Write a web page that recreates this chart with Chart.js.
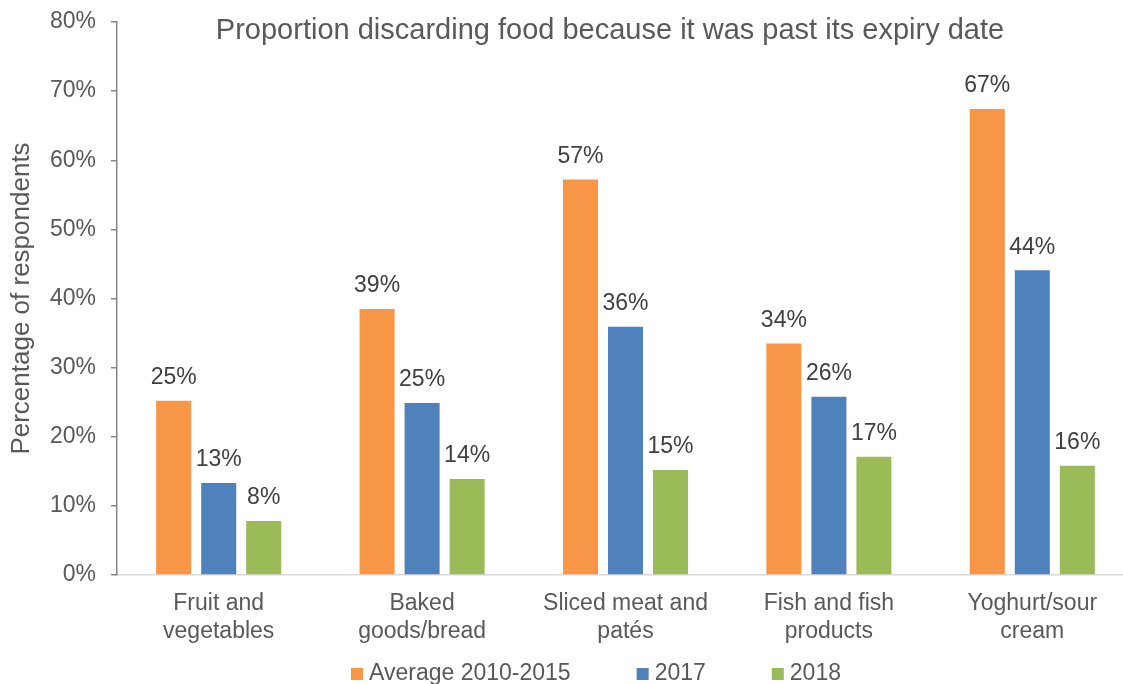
<!DOCTYPE html>
<html>
<head>
<meta charset="utf-8">
<title>Proportion discarding food because it was past its expiry date</title>
<script src="https://cdn.jsdelivr.net/npm/chart.js@4.4.1/dist/chart.umd.min.js"></script>
<style>
  html, body { margin: 0; padding: 0; background: #ffffff; overflow: hidden; }
  #wrap { width: 1220px; height: 684px; }
</style>
</head>
<body>
<div id="wrap"><canvas id="chart" width="1220" height="684"></canvas></div>
<script>
// Food categories (multi-line axis labels)
const categories = [
  ['Fruit and', 'vegetables'],
  ['Baked', 'goods/bread'],
  ['Sliced meat and', 'patés'],
  ['Fish and fish', 'products'],
  ['Yoghurt/sour', 'cream']
];

// Share of respondents (%) per survey period
const seriesNames = ['Average 2010-2015', '2017', '2018'];
const avg2010to2015 = [25.2, 38.5, 57.2, 33.5, 67.4];
const y2017 = [13.3, 24.9, 35.9, 25.8, 44.1];
const y2018 = [7.8, 13.9, 15.2, 17.1, 15.8];

// Value axis ticks
const yTicks = [0, 10, 20, 30, 40, 50, 60, 70, 80];

const FONT = "'Liberation Sans', Arial, sans-serif";
const GREY = '#595959';
const colors = ['#F79646', '#4F81BD', '#9BBB59'];

// Writes the rounded percentage above every bar
const barValueLabels = {
  id: 'barValueLabels',
  afterDatasetsDraw(chart) {
    const ctx = chart.ctx;
    ctx.save();
    ctx.font = '23px ' + FONT;
    ctx.fillStyle = '#404040';
    ctx.textAlign = 'center';
    ctx.textBaseline = 'middle';
    chart.data.datasets.forEach((ds, di) => {
      const meta = chart.getDatasetMeta(di);
      meta.data.forEach((bar, i) => {
        ctx.fillText(Math.round(ds.data[i]) + '%', bar.x, bar.y - 23);
      });
    });
    ctx.restore();
  }
};

// Single-row legend below the axis: square swatch, label, wide gaps
const rowLegend = {
  id: 'rowLegend',
  afterDraw(chart, args, opts) {
    const ctx = chart.ctx;
    ctx.save();
    ctx.font = opts.fontSize + 'px ' + FONT;
    ctx.textBaseline = 'middle';
    ctx.textAlign = 'left';
    const items = chart.data.datasets.map(ds => ({
      text: ds.label,
      color: ds.backgroundColor,
      w: opts.box + opts.boxGap + ctx.measureText(ds.label).width
    }));
    const total = items.reduce((s, it) => s + it.w, 0) + opts.itemGap * (items.length - 1);
    let x = chart.width / 2 + opts.shift - total / 2;
    const y = chart.height - opts.bottom;
    items.forEach(it => {
      ctx.fillStyle = it.color;
      ctx.fillRect(x, y - opts.box / 2, opts.box, opts.box);
      ctx.fillStyle = GREY;
      ctx.fillText(it.text, x + opts.box + opts.boxGap, y);
      x += it.w + opts.itemGap;
    });
    ctx.restore();
  }
};

const seriesValues = [avg2010to2015, y2017, y2018];

new Chart(document.getElementById('chart'), {
  type: 'bar',
  data: {
    labels: categories,
    datasets: seriesNames.map((name, k) => ({
      label: name,
      data: seriesValues[k],
      backgroundColor: colors[k],
      borderWidth: 0,
      categoryPercentage: 0.664,
      barPercentage: 0.778
    }))
  },
  options: {
    responsive: false,
    animation: false,
    layout: { padding: { top: 0, left: 0, right: 0, bottom: 23 } },
    plugins: {
      title: {
        display: true,
        text: 'Proportion discarding food because it was past its expiry date',
        color: GREY,
        font: { family: FONT, size: 29, weight: 'normal', lineHeight: 1.2 },
        padding: { top: 14, bottom: -26.8 }
      },
      legend: { display: false },
      rowLegend: { fontSize: 23, box: 12, boxGap: 6, itemGap: 66, shift: -14, bottom: 10 },
      tooltip: { enabled: false }
    },
    scales: {
      x: {
        grid: { display: false, drawTicks: false },
        border: { display: true, color: '#d9d9d9', width: 1.5 },
        ticks: {
          color: GREY,
          font: { family: FONT, size: 23, lineHeight: 1.217 },
          padding: 15,
          maxRotation: 0,
          autoSkip: false
        }
      },
      y: {
        min: 0,
        max: 80,
        afterBuildTicks(scale) { scale.ticks = yTicks.map(v => ({ value: v })); },
        grid: {
          display: true,
          drawOnChartArea: false,
          drawTicks: true,
          tickLength: 6,
          color: '#868686',
          lineWidth: 1.5
        },
        border: { display: true, color: '#868686', width: 1.5 },
        ticks: {
          color: GREY,
          font: { family: FONT, size: 23 },
          padding: 15,
          callback: v => v + '%'
        },
        title: {
          display: true,
          text: 'Percentage of respondents',
          color: GREY,
          font: { family: FONT, size: 26 },
          padding: { top: 6, bottom: 0 }
        },
        afterFit(scale) {
          scale.width = 117;
          // only half a label of headroom above the top tick
          scale.paddingTop = 13;
          scale.paddingBottom = 13;
        }
      },
      // keeps room on the right so the plot ends where the chart frame does
      rightSpace: {
        type: 'linear',
        position: 'right',
        display: true,
        grid: { display: false },
        border: { display: false },
        ticks: { display: false },
        afterFit(scale) { scale.width = 86; }
      }
    }
  },
  plugins: [barValueLabels, rowLegend]
});
</script>
</body>
</html>
